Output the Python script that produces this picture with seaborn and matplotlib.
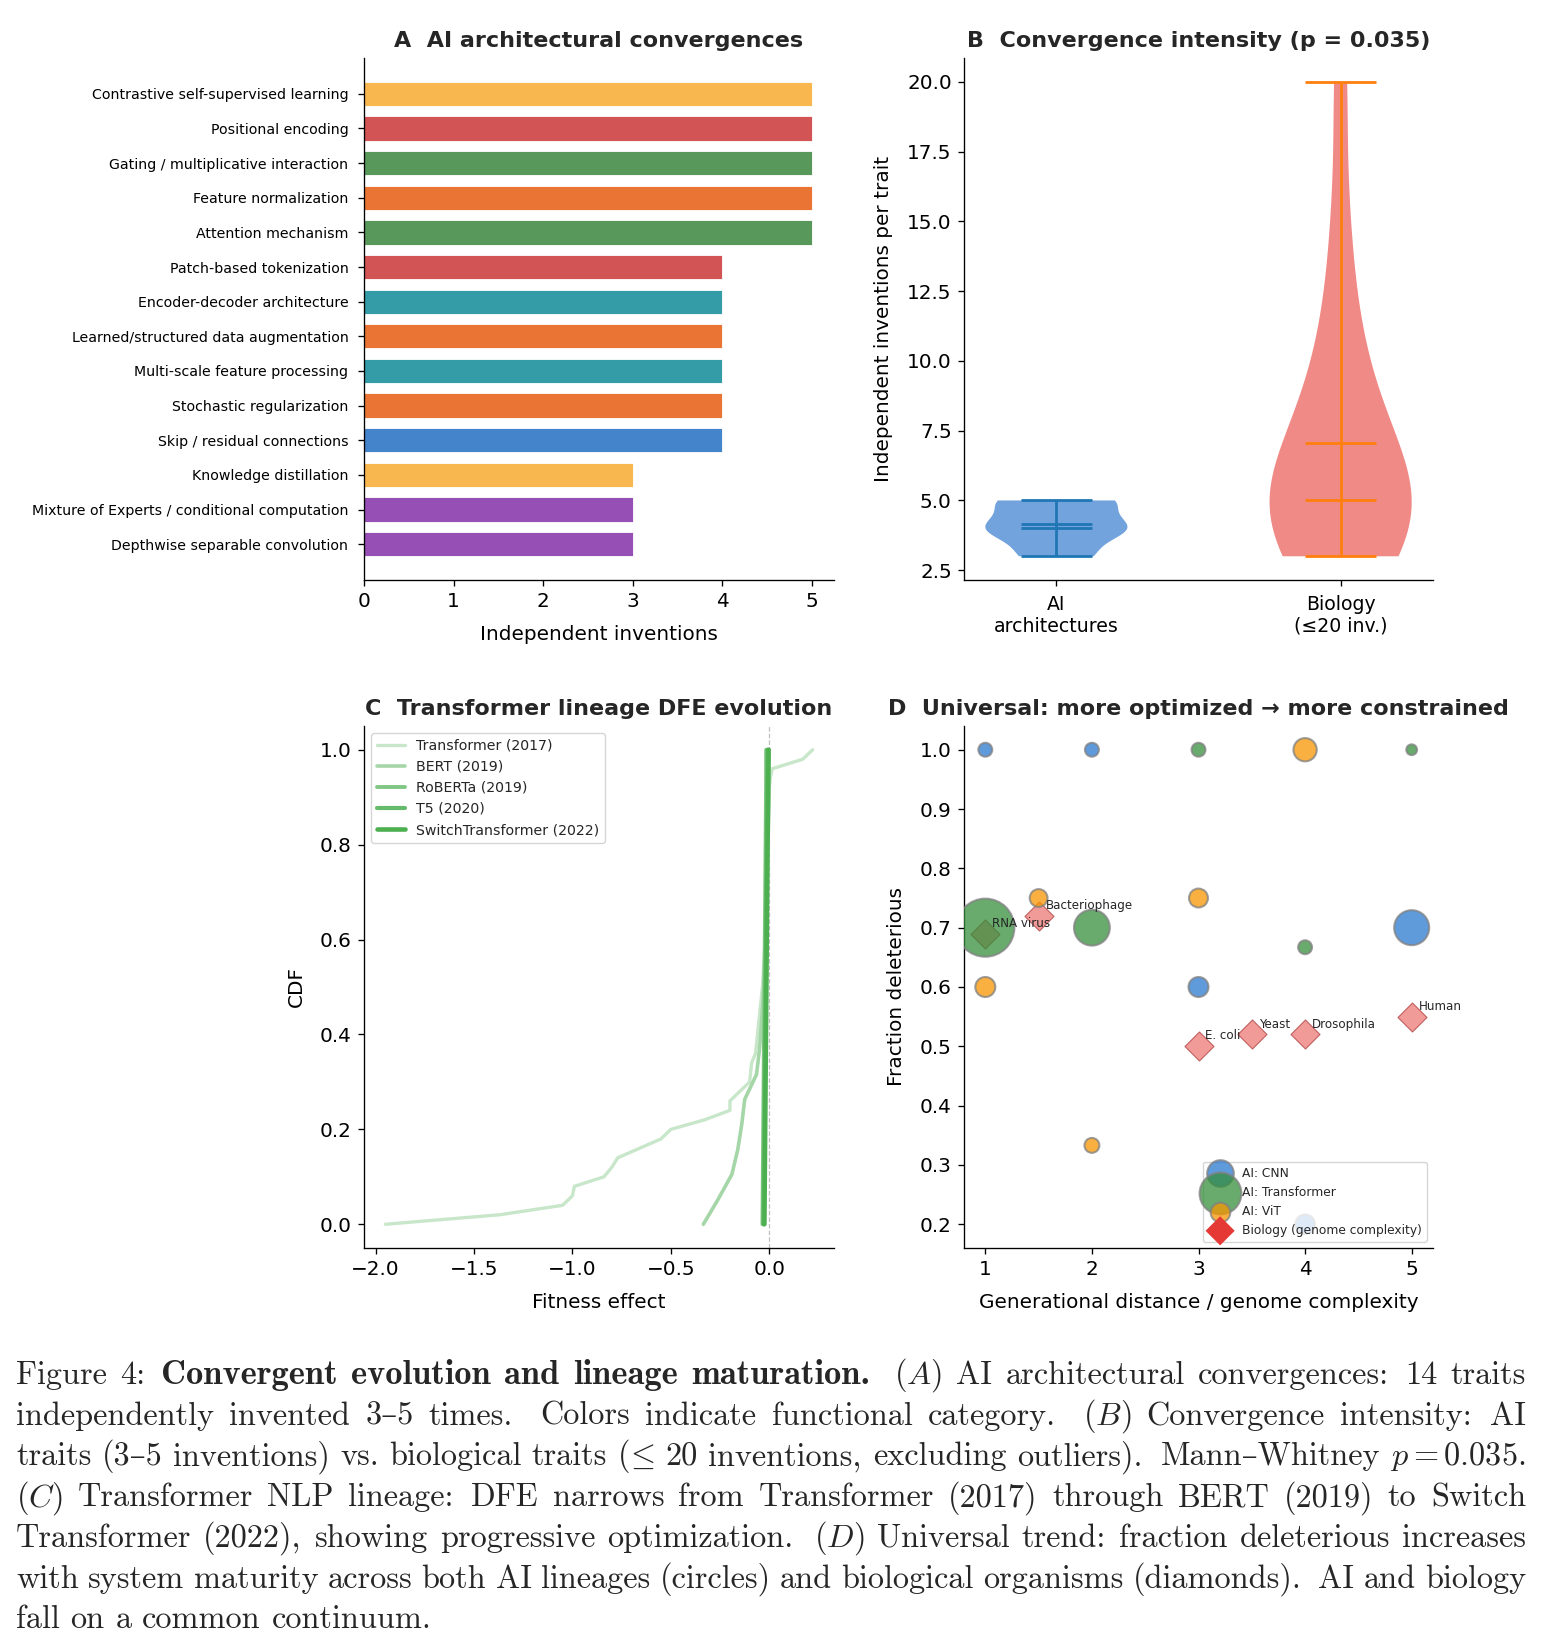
import numpy as np
import matplotlib
matplotlib.use("Agg")
import matplotlib.pyplot as plt
import seaborn as sns

# ---------------- data ----------------
traits = ["Contrastive self-supervised learning", "Positional encoding",
          "Gating / multiplicative interaction", "Feature normalization",
          "Attention mechanism", "Patch-based tokenization",
          "Encoder-decoder architecture", "Learned/structured data augmentation",
          "Multi-scale feature processing", "Stochastic regularization",
          "Skip / residual connections", "Knowledge distillation",
          "Mixture of Experts / conditional computation",
          "Depthwise separable convolution"]
inventions = [5, 5, 5, 5, 5, 4, 4, 4, 4, 4, 4, 3, 3, 3]
trait_category = ["Learning signal", "Input representation", "Information routing",
                  "Optimization", "Information routing", "Input representation",
                  "Hierarchy", "Optimization", "Hierarchy", "Optimization",
                  "Connectivity", "Learning signal", "Efficiency", "Efficiency"]
category_colors = {"Learning signal": "#f9b84f", "Input representation": "#d35454",
                   "Information routing": "#58985a", "Optimization": "#ea7433",
                   "Hierarchy": "#339ca6", "Connectivity": "#4484cb",
                   "Efficiency": "#964fb4"}

ai_inventions = [5, 5, 5, 5, 5, 4, 4, 4, 4, 4, 4, 3, 3, 3]
bio_inventions = [3, 3, 3, 4, 4, 4, 5, 5, 5, 5, 6, 6, 7, 8, 9, 10, 12, 15, 20]
violin_labels = ["AI\narchitectures", "Biology\n(\u226420 inv.)"]

dfe_names = ["Transformer (2017)", "BERT (2019)", "RoBERTa (2019)", "T5 (2020)",
             "SwitchTransformer (2022)"]
dfe_transformer = [-1.95, -1.37, -1.05, -1.00, -0.99, -0.84, -0.80, -0.77, -0.66, -0.55,
                   -0.50, -0.33, -0.20, -0.20, -0.15, -0.10, -0.095, -0.09, -0.07, -0.065,
                   -0.06, -0.055, -0.05, -0.045, -0.04, -0.035, -0.032, -0.03, -0.027,
                   -0.024, -0.02, -0.018, -0.016, -0.014, -0.012, -0.011, -0.010, -0.009,
                   -0.008, -0.007, -0.006, -0.005, -0.004, -0.003, -0.002, -0.001, 0.000,
                   0.005, 0.015, 0.17, 0.22]
dfe_bert = [-0.335, -0.26, -0.19, -0.16, -0.14, -0.125, -0.065, -0.05, -0.04, -0.032,
            -0.025, -0.02, -0.016, -0.013, -0.010, -0.008, -0.006, -0.004, -0.002, 0.0]
dfe_roberta = [-0.035, -0.033, -0.031, -0.029, -0.027, -0.025, -0.023, -0.021, -0.019,
               -0.017, -0.016]
dfe_t5 = [-0.030, -0.028, -0.026, -0.024, -0.022, -0.020, -0.018, -0.016, -0.014,
          -0.012, -0.010]
dfe_switch = [-0.025, -0.023, -0.021, -0.019, -0.017, -0.015, -0.013, -0.011, -0.009,
              -0.006, -0.004]
dfe_colors = ["#c8e6c9", "#a5d6a7", "#81c784", "#66bb6a", "#4caf50"]
dfe_widths = [2.4, 2.6, 2.8, 3.0, 3.3]

cnn_x = [1, 2, 3, 4, 5]
cnn_y = [1.0, 1.0, 0.6, 0.2, 0.7]
cnn_s = [100, 100, 207, 200, 635]
trf_x = [1, 2, 3, 4, 5]
trf_y = [0.7, 0.7, 1.0, 0.667, 1.0]
trf_s = [1750, 665, 100, 100, 60]
vit_x = [1, 1.5, 2, 3, 4]
vit_y = [0.6, 0.75, 0.333, 0.75, 1.0]
vit_s = [207, 165, 115, 185, 280]
bio_names = ["RNA virus", "Bacteriophage", "E. coli", "Yeast", "Drosophila", "Human"]
bio_x = [1, 1.5, 3, 3.5, 4, 5]
bio_y = [0.69, 0.72, 0.50, 0.52, 0.52, 0.55]

caption_lines = [
    "Figure 4: **Convergent evolution and lineage maturation.** $(A)$ AI architectural convergences: 14 traits",
    "independently invented 3\u20135 times. Colors indicate functional category. $(B)$ Convergence intensity: AI",
    "traits (3\u20135 inventions) vs. biological traits ($\\!\\leq$ 20 inventions, excluding outliers). Mann\u2013Whitney $p=0.035$.",
    "$(C)$ Transformer NLP lineage: DFE narrows from Transformer (2017) through BERT (2019) to Switch",
    "Transformer (2022), showing progressive optimization. $(D)$ Universal trend: fraction deleterious increases",
    "with system maturity across both AI lineages (circles) and biological organisms (diamonds). AI and biology",
    "fall on a common continuum.",
]

# ---------------- style ----------------
sns.set_style("ticks")
plt.rcParams.update({
    "font.family": ["DejaVu Sans"],
    "mathtext.fontset": "cm",
    "axes.linewidth": 0.96,
    "xtick.major.width": 0.96, "ytick.major.width": 0.96,
    "xtick.major.size": 4.2, "ytick.major.size": 4.2,
    "xtick.major.pad": 4.2, "ytick.major.pad": 4.6,
    "xtick.labelsize": 14.4, "ytick.labelsize": 14.4,
    "axes.labelsize": 14.4,
    "axes.labelpad": 10,
    "xtick.color": "black", "ytick.color": "black",
    "axes.edgecolor": "black", "axes.labelcolor": "black",
})

W, H = 1542, 1650
fig = plt.figure(figsize=(W / 100, H / 100), dpi=100)


def box(l, t, r, b):
    return [l / W, 1 - b / H, (r - l) / W, (b - t) / H]


axA = fig.add_axes(box(364, 58, 834, 580))
axB = fig.add_axes(box(964, 58, 1433, 580))
axC = fig.add_axes(box(364, 726, 834, 1248))
axD = fig.add_axes(box(964, 726, 1433, 1248))

TITLE = dict(fontsize=16, fontweight="bold", pad=8)

# ---------------- A ----------------
sns.barplot(x=inventions, y=traits, hue=trait_category, palette=category_colors,
            dodge=False, legend=False, saturation=1, width=0.7, orient="h",
            edgecolor="white", linewidth=0.6, ax=axA)
axA.set_ylim(13 + 1.035, -1.035)
axA.set_xlim(0, 5.25)
axA.set_xticks([0, 1, 2, 3, 4, 5])
axA.tick_params(axis="y", labelsize=10.2, pad=7)
axA.set_xlabel("Independent inventions")
axA.set_ylabel("")
axA.set_title("A  AI architectural convergences", **TITLE)

# ---------------- B ----------------
for pos, vals, body_c, line_c in [(1, ai_inventions, "#72a3dc", "#1f77b4"),
                                  (2, bio_inventions, "#f08a87", "#ff7f0e")]:
    parts = axB.violinplot([vals], positions=[pos], widths=0.5,
                           showmeans=True, showmedians=True, showextrema=True)
    for bdy in parts["bodies"]:
        bdy.set_facecolor(body_c)
        bdy.set_edgecolor("none")
        bdy.set_alpha(1)
    for key in ["cbars", "cmins", "cmaxes", "cmeans", "cmedians"]:
        parts[key].set_color(line_c)
        parts[key].set_linewidth(2.0)
axB.set_xticks([1, 2])
axB.set_xticklabels(violin_labels, fontsize=13.6)
axB.tick_params(axis="x", pad=6.5)
axB.set_ylabel("Independent inventions per trait")
axB.set_title("B  Convergence intensity (p = 0.035)", **TITLE)

# ---------------- C ----------------
axC.axvline(0, color="gray", ls="--", lw=0.9, alpha=0.5)
for name, vals, col, lw in zip(dfe_names,
                               [dfe_transformer, dfe_bert, dfe_roberta, dfe_t5, dfe_switch],
                               dfe_colors, dfe_widths):
    v = np.sort(np.asarray(vals))
    cdf = np.arange(len(v)) / (len(v) - 1)
    sns.lineplot(x=v, y=cdf, color=col, linewidth=lw, label=name,
                 estimator=None, sort=False, ax=axC)
axC.legend(loc="upper left", fontsize=10.2)
axC.set_xlabel("Fitness effect")
axC.set_ylabel("CDF")
axC.set_title("C  Transformer lineage DFE evolution", **TITLE)

# ---------------- D ----------------
circ = dict(alpha=0.75, edgecolors="gray", linewidths=1.5, zorder=3)
axD.scatter(cnn_x, cnn_y, s=cnn_s, c="#2a78d0", label="AI: CNN", **circ)
axD.scatter(trf_x, trf_y, s=trf_s, c="#358f3c", label="AI: Transformer", **circ)
axD.scatter(vit_x, vit_y, s=vit_s, c="#f79600", label="AI: ViT", **circ)
axD.scatter(bio_x, bio_y, s=220, marker="D", c="#e53935", alpha=0.5,
            edgecolors="darkred", linewidths=0.8, zorder=2,
            label="Biology (genome complexity)")
for nm, x, y in zip(bio_names, bio_x, bio_y):
    axD.annotate(nm, (x, y), xytext=(5, 5), textcoords="offset points", fontsize=8.6)
legD = axD.legend(loc="lower right", fontsize=8.8)
bh = legD.legend_handles[-1]
bh.set_alpha(1.0)
bh.set_edgecolor("none")
axD.set_xticks([1, 2, 3, 4, 5])
axD.set_xlabel("Generational distance / genome complexity")
axD.set_ylabel("Fraction deleterious")
axD.set_title("D  Universal: more optimized \u2192 more constrained", **TITLE)

for ax in (axA, axB, axC, axD):
    sns.despine(ax=ax)

# ---------------- caption (justified) ----------------
CAP_PT = 23.25
em_px = CAP_PT * 100 / 72
reg = dict(family=["cmr10", "DejaVu Serif"], fontsize=CAP_PT)
bold = dict(family=["cmb10", "DejaVu Serif"], fontsize=CAP_PT * 1.07)
left_px, right_px = 16, 1526
base0, lead = 1384, 40.7

fig.canvas.draw()
renderer = fig.canvas.get_renderer()

for li, line in enumerate(caption_lines):
    toks = []
    isbold = False
    for w in line.split(" "):
        if w.startswith("**"):
            w = w[2:]
            isbold = True
        end_b = w.endswith("**")
        if end_b:
            w = w[:-2]
        toks.append((w, isbold))
        if end_b:
            isbold = False
    texts, widths = [], []
    yfrac = 1 - (base0 + li * lead) / H
    for w, b in toks:
        t = fig.text(0, yfrac, w, va="baseline", ha="left", **(bold if b else reg))
        bb = t.get_window_extent(renderer)
        texts.append(t)
        widths.append(bb.width)
    weights = []
    for w, _ in toks[:-1]:
        if w.endswith(".") and w not in ("vs.",):
            weights.append(1.8)
        elif w.endswith(":"):
            weights.append(1.2)
        elif w.endswith(","):
            weights.append(1.1)
        else:
            weights.append(1.0)
    if li < len(caption_lines) - 1:
        k = (right_px - left_px - sum(widths)) / sum(weights)
        gaps = [wt * k for wt in weights]
    else:
        gaps = [0.333 * em_px] * len(weights)
    x = left_px
    for i, t in enumerate(texts):
        t.set_x(x / W)
        x += widths[i]
        if i < len(gaps):
            x += gaps[i]

fig.savefig("out.png", dpi=100)
